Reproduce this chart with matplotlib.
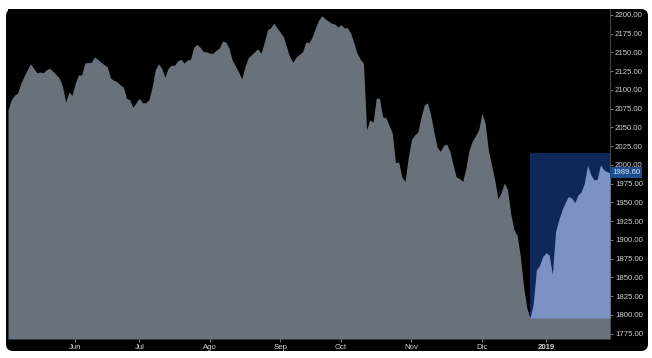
import matplotlib
matplotlib.use("Agg")
import matplotlib.pyplot as plt
from matplotlib.patches import FancyBboxPatch, Rectangle
import numpy as np

# trading session index (0 = mid May 2018) and closing level
session = [0, 1, 2, 3, 4, 6, 7, 8, 9, 10, 11, 12, 13, 14, 16, 17, 18, 19, 20, 21,
           22, 23, 24, 26, 27, 28, 29, 31, 32, 33, 34, 35, 36, 37, 38, 39, 40, 41, 42, 43,
           44, 45, 46, 47, 48, 49, 50, 51, 52, 53, 54, 55, 56, 57, 58, 59, 60, 61, 62, 63,
           64, 65, 66, 67, 68, 69, 70, 71, 72, 73, 74, 75, 76, 77, 78, 79, 80, 81, 82, 83,
           84, 85, 86, 87, 88, 89, 90, 92, 93, 94, 95, 96, 97, 98, 99, 100, 101, 102, 103, 104,
           105, 106, 107, 108, 109, 110, 111, 112, 113, 114, 115, 116, 117, 118, 119, 120, 121, 122, 123, 124,
           125, 126, 127, 128, 129, 130, 131, 132, 133, 134, 135, 136, 137, 138, 139, 140, 141, 142, 143, 144,
           145, 146, 147, 148, 149, 150, 151, 152, 153, 154, 155, 156, 157, 158, 159, 160, 161, 162, 163, 164,
           165, 166, 167, 168, 169, 170, 171, 172, 173, 174, 175, 176, 177, 178, 179, 180, 181, 182, 183, 184,
           185, 186, 187, 188]
close = [2073, 2087, 2093, 2096, 2109, 2127, 2135, 2129, 2123, 2124, 2123, 2127, 2129, 2125, 2116, 2105, 2084, 2097, 2093, 2109,
         2120, 2120, 2136, 2137, 2144, 2141, 2137, 2131, 2116, 2113, 2111, 2107, 2104, 2089, 2087, 2077, 2083, 2089, 2083, 2083,
         2087, 2104, 2127, 2135, 2129, 2117, 2129, 2133, 2133, 2139, 2141, 2136, 2140, 2141, 2157, 2161, 2157, 2151, 2151, 2149,
         2149, 2153, 2156, 2165, 2164, 2156, 2140, 2132, 2124, 2115, 2131, 2143, 2147, 2151, 2155, 2149, 2163, 2180, 2183, 2189,
         2183, 2177, 2171, 2157, 2144, 2137, 2144, 2151, 2164, 2163, 2171, 2183, 2193, 2199, 2195, 2192, 2189, 2188, 2184, 2187,
         2183, 2183, 2176, 2163, 2149, 2141, 2136, 2047, 2060, 2057, 2089, 2089, 2064, 2063, 2053, 2043, 2003, 2004, 1984, 1978,
         2010, 2034, 2040, 2044, 2064, 2080, 2083, 2067, 2044, 2024, 2018, 2026, 2028, 2018, 2000, 1984, 1982, 1978, 1996, 2020,
         2032, 2039, 2047, 2069, 2056, 2020, 2000, 1980, 1955, 1963, 1976, 1967, 1935, 1914, 1906, 1878, 1838, 1810, 1796, 1814,
         1860, 1866, 1878, 1883, 1880, 1854, 1911, 1927, 1940, 1950, 1958, 1956, 1950, 1960, 1964, 1976, 2000, 1987, 1980, 1981,
         2000, 1994, 1991, 1989.6]

month_labels = ["Jun", "Jul", "Ago", "Sep", "Oct", "Nov", "Dic", "2019"]
month_start = [21, 41, 63, 85, 104, 126, 148, 168]

highlight_top = 2016
y_low, y_high = 1768, 2208

session = np.array(session)
close = np.array(close, dtype=float)

plt.rcParams['font.family'] = ['Liberation Sans', 'DejaVu Sans']

fig = plt.figure(figsize=(6.52, 3.58), dpi=100)
fig.patch.set_facecolor('white')
bg = FancyBboxPatch((0.06, 0.07), 6.42, 3.42, boxstyle='round,pad=0,rounding_size=0.07',
                    transform=fig.dpi_scale_trans, facecolor='black', edgecolor='none',
                    zorder=-5)
fig.patches.append(bg)

ax = fig.add_axes([8 / 652, 19 / 358, 602 / 652, 330 / 358])
ax.set_facecolor('black')

ax.fill_between(session, close, y_low, color='#69717b', lw=0, zorder=1)

# zoom box from the December low to the end
i_low = int(np.argmin(close))
x0, lo = session[i_low], close[i_low]
ax.add_patch(Rectangle((x0, lo), session[-1] - x0, highlight_top - lo,
                       facecolor='#10275a', edgecolor='none', zorder=2))
ax.fill_between(session[i_low:], close[i_low:], lo, color='#7d92c4', lw=0, zorder=3)

ax.set_xlim(session[0], session[-1])
ax.set_ylim(y_low, y_high)

ax.yaxis.tick_right()
ax.set_yticks(np.arange(1775, 2201, 25))
ax.set_yticklabels(["%.2f" % v for v in np.arange(1775, 2201, 25)])
ax.set_xticks(month_start)
ax.set_xticklabels(month_labels)
ax.get_xticklabels()[-1].set_fontweight('bold')

ax.tick_params(axis='y', colors='#8a8a8a', labelcolor='#d0d0d0', labelsize=5.6,
               length=2, width=0.6, pad=1.5)
ax.tick_params(axis='x', colors='#8a8a8a', labelcolor='#d0d0d0', labelsize=5.6,
               length=2, width=0.6, pad=1.5)
for side in ['top', 'left', 'bottom']:
    ax.spines[side].set_visible(False)
ax.spines['right'].set_color('#555555')
ax.spines['right'].set_linewidth(0.6)

# last price tag
ax.text(1.004, close[-1], "%.2f" % close[-1], transform=ax.get_yaxis_transform(),
        ha='left', va='center', fontsize=5.6, color='#dce6f5', zorder=5, clip_on=False,
        bbox=dict(boxstyle='square,pad=0.25', facecolor='#1d4e8f', edgecolor='none'))

fig.savefig("out.png", dpi=100, facecolor='white')
